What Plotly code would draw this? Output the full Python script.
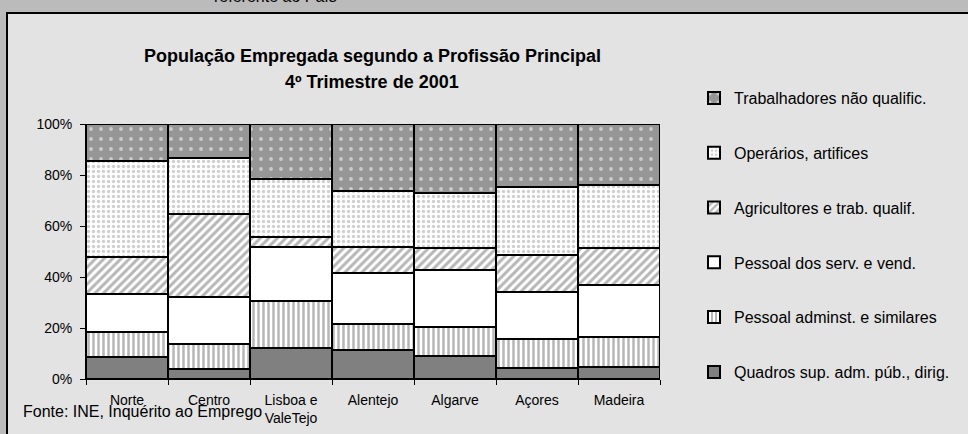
"""População empregada por profissão principal — barras 100% empilhadas com padrões."""
import plotly.graph_objects as go

regioes = ["Norte", "Centro", "Lisboa e<br>ValeTejo", "Alentejo", "Algarve", "Açores", "Madeira"]

# percentagens por região (ordem de baixo para cima)
quadros = [8.5, 4.0, 12.3, 11.4, 9.1, 4.3, 4.6]
adminst = [9.8, 9.7, 18.4, 10.2, 11.2, 11.5, 12.0]
servicos = [15.0, 18.3, 20.9, 19.8, 22.4, 18.2, 20.1]
agricultores = [14.7, 32.8, 4.2, 10.5, 8.8, 14.5, 14.8]
operarios = [37.6, 21.9, 22.7, 21.9, 21.3, 26.7, 24.7]
trabalhadores = [14.4, 13.3, 21.5, 26.2, 27.2, 24.8, 23.8]

nomes = ["Quadros sup. adm. púb., dirig.", "Pessoal adminst. e similares",
         "Pessoal dos serv. e vend.", "Agricultores e trab. qualif.",
         "Operários, artifices", "Trabalhadores não qualific."]
series = [quadros, adminst, servicos, agricultores, operarios, trabalhadores]

estilos = [
    dict(color="#808080"),
    dict(color="white", pattern=dict(shape="|", fgcolor="#6e6e6e", bgcolor="white",
                                     size=5, solidity=0.5)),
    dict(color="white"),
    dict(color="white", pattern=dict(shape="/", fgcolor="#6e6e6e", bgcolor="white",
                                     size=6, solidity=0.5)),
    dict(color="white", pattern=dict(shape=".", fgcolor="#a0a0a0", bgcolor="white",
                                     size=5, solidity=0.35)),
    dict(color="#969696", pattern=dict(shape=".", fgcolor="white", bgcolor="#969696",
                                       size=10, solidity=0.12)),
]

W, H = 968, 434
L, R, T, B = 86, 660, 124, 379   # área do gráfico em pixels


def px_x(p):
    return (p - L) / (R - L)


def px_y(p):
    return (B - p) / (B - T)


fig = go.Figure()
n = len(nomes)
for i, (nome, vals, est) in enumerate(zip(nomes, series, estilos)):
    fig.add_trace(go.Bar(
        x=regioes, y=vals, name=nome, legendgroup=f"g{i}", legendrank=n - i,
        marker=dict(line=dict(color="black", width=2), **est),
    ))

font = "Liberation Sans, Arial, sans-serif"
fig.update_layout(
    barmode="stack", bargap=0,
    width=W, height=H,
    margin=dict(l=L, r=W - R, t=T, b=H - B, autoexpand=False),
    paper_bgcolor="#bbbbbb", plot_bgcolor="rgba(0,0,0,0)",
    font=dict(family=font, color="black", size=14),
    showlegend=True,
    legend=dict(x=px_x(694), y=px_y(81), xanchor="left", yanchor="top",
                traceorder="grouped", tracegroupgap=31, maxheight=420,
                font=dict(size=16), bgcolor="rgba(0,0,0,0)"),
    shapes=[dict(type="rect", xref="paper", yref="paper", layer="below",
                 x0=px_x(7), x1=px_x(975), y0=px_y(440), y1=px_y(13),
                 fillcolor="#e3e3e3", line=dict(color="black", width=2))],
    annotations=[
        dict(text="<b>População Empregada segundo a Profissão Principal</b>",
             x=px_x(372), y=px_y(56), xref="paper", yref="paper", yanchor="middle",
             showarrow=False, font=dict(size=18)),
        dict(text="<b>4º Trimestre de 2001</b>",
             x=px_x(372), y=px_y(82), xref="paper", yref="paper", yanchor="middle",
             showarrow=False, font=dict(size=18)),
        dict(text="Fonte: INE, Inquérito ao Emprego",
             x=px_x(21), y=px_y(411), xref="paper", yref="paper",
             xanchor="left", yanchor="middle", showarrow=False, font=dict(size=16)),
        dict(text="referente ao País",
             x=px_x(212), y=px_y(7), xref="paper", yref="paper",
             yanchor="bottom", showarrow=False, font=dict(size=16)),
    ],
)
fig.update_yaxes(range=[0, 100], tickvals=[0, 20, 40, 60, 80, 100],
                 ticktext=["0%", "20%", "40%", "60%", "80%", "100%"],
                 showgrid=False, zeroline=False, showline=True, linecolor="black",
                 ticks="outside", ticklen=5, tickcolor="black", ticklabelstandoff=5)
fig.update_xaxes(showgrid=False, showline=True, linecolor="black",
                 ticks="outside", ticklen=5, tickcolor="black", tickson="boundaries",
                 ticklabelstandoff=8, tickangle=0)

# sem margem do body, para o gráfico ocupar a janela desde o canto
fig.write_html("out.html", config={"displayModeBar": False},
               post_script="document.body.style.margin='0';")
